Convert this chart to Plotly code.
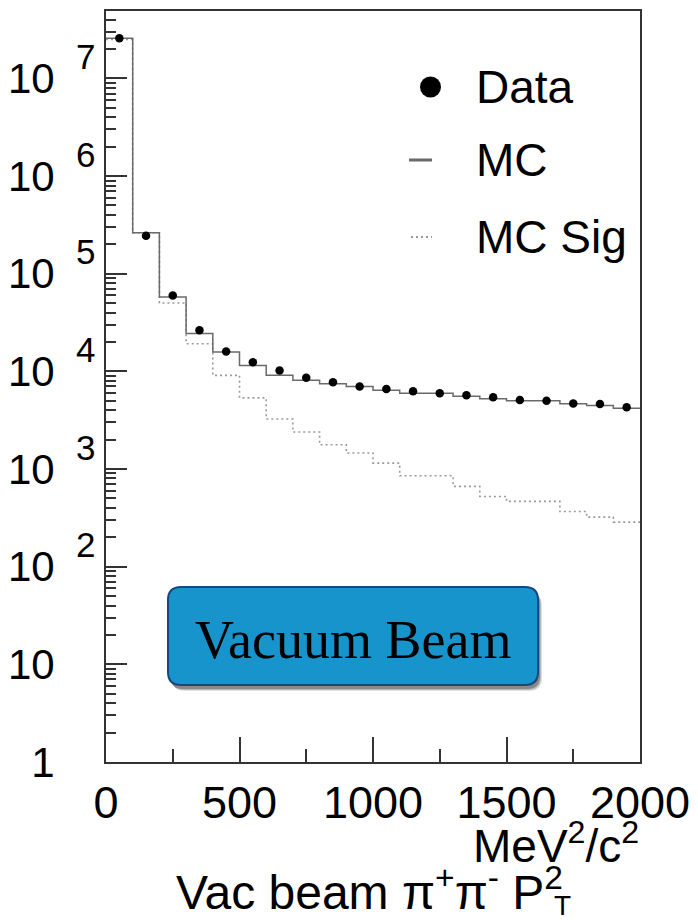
import plotly.graph_objects as go

# ---------------- data ----------------
bin_centers = [50, 150, 250, 350, 450, 550, 650, 750, 850, 950,
               1050, 1150, 1250, 1350, 1450, 1550, 1650, 1750, 1850, 1950]
bin_width = 100
data_counts = [2.57e7, 2.45e5, 59700, 26400, 16000, 12400, 10200, 8610, 7730, 7010,
               6610, 6240, 5960, 5680, 5420, 5090, 5010, 4700, 4630, 4280]
mc_counts = [2.57e7, 2.63e5, 57900, 24400, 15800, 11500, 9100, 8130, 7480, 7010,
             6400, 5960, 5960, 5550, 5250, 5010, 5010, 4670, 4460, 4180]
mc_sig_counts = [2.51e7, 2.63e5, 50200, 19200, 9100, 5350, 3250, 2390, 1770, 1460,
                 1150, 853, 853, 664, 524, 466, 466, 367, 322, 286]
x_tick_vals = [0, 500, 1000, 1500, 2000]
x_tick_text = ["0", "500", "1000", "1500", "2000"]
x_minor_vals = [250, 750, 1250, 1750]
y_decades = [0, 1, 2, 3, 4, 5, 6, 7]
legend_labels = ["Data", "MC", "MC Sig"]

# ---------------- layout geometry ----------------
W, H = 698, 923
L, R, T, B = 106, 58, 11, 161
PW, PH = W - L - R, H - T - B


def fx(px):
    return (px - L) / PW


def fy(py):
    return (H - B - py) / PH


def step_xy(centers, vals):
    xs = [c - bin_width / 2 for c in centers] + [centers[-1] + bin_width / 2]
    ys = list(vals) + [vals[-1]]
    return xs, ys


FONT = "Liberation Sans, Arial, Helvetica, sans-serif"
AX = "#333333"

fig = go.Figure()

sx, sy = step_xy(bin_centers, mc_sig_counts)
fig.add_trace(go.Scatter(x=sx, y=sy, mode="lines", line_shape="hv",
                         line=dict(color="#9a9a9a", width=1.6, dash="2px,3px"),
                         name="MC Sig", showlegend=False, hoverinfo="skip"))
mx, my = step_xy(bin_centers, mc_counts)
fig.add_trace(go.Scatter(x=mx, y=my, mode="lines", line_shape="hv",
                         line=dict(color="#6a6a6a", width=1.5),
                         name="MC", showlegend=False, hoverinfo="skip"))
fig.add_trace(go.Scatter(x=bin_centers, y=data_counts, mode="markers",
                         marker=dict(color="black", size=8.5, symbol="circle"),
                         name="Data", showlegend=False))

y_tickvals = [10 ** k for k in y_decades]
y_ticktext = ["1" if k == 0 else "10" for k in y_decades]
y_minor = [m * 10 ** k for k in y_decades for m in range(2, 10)]

fig.update_layout(
    template="none",
    width=W, height=H,
    margin=dict(l=L, r=R, t=T, b=B, pad=0),
    paper_bgcolor="white", plot_bgcolor="white",
    showlegend=False,
    xaxis=dict(range=[0, 2000], showgrid=False, zeroline=False, automargin=False,
               showline=True, linecolor=AX, linewidth=2, mirror=True,
               ticks="inside", ticklen=25, tickwidth=1.5, tickcolor=AX,
               tickvals=x_tick_vals, ticktext=x_tick_text,
               tickfont=dict(family=FONT, size=45, color="black"),
               ticklabelstandoff=0,
               minor=dict(tickvals=x_minor_vals, ticks="inside", ticklen=13,
                          tickwidth=1.5, tickcolor=AX)),
    yaxis=dict(type="log", range=[0, 7.69], showgrid=False, zeroline=False,
               automargin=False,
               showline=True, linecolor=AX, linewidth=2, mirror=True,
               ticks="inside", ticklen=21, tickwidth=2, tickcolor=AX,
               tickvals=y_tickvals, ticktext=y_ticktext,
               tickfont=dict(family=FONT, size=42, color="black"),
               ticklabelstandoff=41,
               minor=dict(tickvals=y_minor, ticks="inside", ticklen=10,
                          tickwidth=1.5, tickcolor=AX)),
)

annotations = []
# exponents of the y tick labels
for k in y_decades:
    if k >= 2:
        annotations.append(dict(text=str(k), xref="paper", yref="y",
                                x=fx(85), y=k, yshift=22, xanchor="center",
                                yanchor="middle", showarrow=False,
                                font=dict(family=FONT, size=35, color="black")))

# axis titles
annotations.append(dict(text="MeV<sup>2</sup>/c<sup>2</sup>", xref="paper", yref="paper",
                        x=fx(641), y=fy(843), xanchor="right", yanchor="middle",
                        showarrow=False, font=dict(family=FONT, size=46, color="black")))
annotations.append(dict(text="Vac beam \u03c0<sup>+</sup>\u03c0<sup>-</sup> P<sup>2</sup>",
                        xref="paper", yref="paper", x=fx(174), y=fy(889),
                        xanchor="left", yanchor="middle", showarrow=False,
                        font=dict(family=FONT, size=48, color="black")))
annotations.append(dict(text="T", xref="paper", yref="paper", x=fx(562), y=fy(923),
                        xanchor="center", yanchor="bottom", showarrow=False,
                        font=dict(family=FONT, size=28, color="black")))

# legend (manual)
leg_y = [87, 160, 237]
for lab, py in zip(legend_labels, leg_y):
    annotations.append(dict(text=lab, xref="paper", yref="paper", x=fx(474), y=fy(py),
                            xanchor="left", yanchor="middle", showarrow=False,
                            font=dict(family=FONT, size=46, color="black")))

# box text
annotations.append(dict(text="Vacuum Beam", xref="paper", yref="paper",
                        x=fx(353), y=fy(640), xanchor="center", yanchor="middle",
                        showarrow=False,
                        font=dict(family="Liberation Serif, Times New Roman, serif",
                                  size=54, color="black")))

shapes = []
# legend symbols
shapes.append(dict(type="circle", xref="paper", yref="paper",
                   x0=fx(420), x1=fx(441), y0=fy(97.5), y1=fy(76.5),
                   fillcolor="black", line=dict(width=0)))
shapes.append(dict(type="line", xref="paper", yref="paper",
                   x0=fx(409), x1=fx(432), y0=fy(160), y1=fy(160),
                   line=dict(color="#6a6a6a", width=3)))
shapes.append(dict(type="line", xref="paper", yref="paper",
                   x0=fx(411), x1=fx(432), y0=fy(237), y1=fy(237),
                   line=dict(color="#9a9a9a", width=2, dash="2px,3px")))


def rounded_path(x0, y0, x1, y1, r):
    pts = [
        ("M", (x0 + r, y0)), ("L", (x1 - r, y0)), ("Q", (x1, y0), (x1, y0 + r)),
        ("L", (x1, y1 - r)), ("Q", (x1, y1), (x1 - r, y1)), ("L", (x0 + r, y1)),
        ("Q", (x0, y1), (x0, y1 - r)), ("L", (x0, y0 + r)), ("Q", (x0, y0), (x0 + r, y0)),
    ]
    s = ""
    for p in pts:
        cmd = p[0]
        coords = " ".join(f"{fx(a):.5f},{fy(b):.5f}" for a, b in p[1:])
        s += f"{cmd} {coords} "
    return s + "Z"


# box shadow layers
for off, op in [(6, 0.12), (5, 0.18), (4, 0.25)]:
    shapes.append(dict(type="path", xref="paper", yref="paper",
                       path=rounded_path(168 + off - 2, 587 + off, 538 + off - 2, 685 + off, 13),
                       fillcolor=f"rgba(0,0,0,{op})", line=dict(width=0), layer="above"))
shapes.append(dict(type="path", xref="paper", yref="paper",
                   path=rounded_path(168, 587, 538, 685, 13),
                   fillcolor="#1794cc", line=dict(color="#17477f", width=2),
                   layer="above"))

fig.update_layout(annotations=annotations, shapes=shapes)
fig.write_html("out.html")
